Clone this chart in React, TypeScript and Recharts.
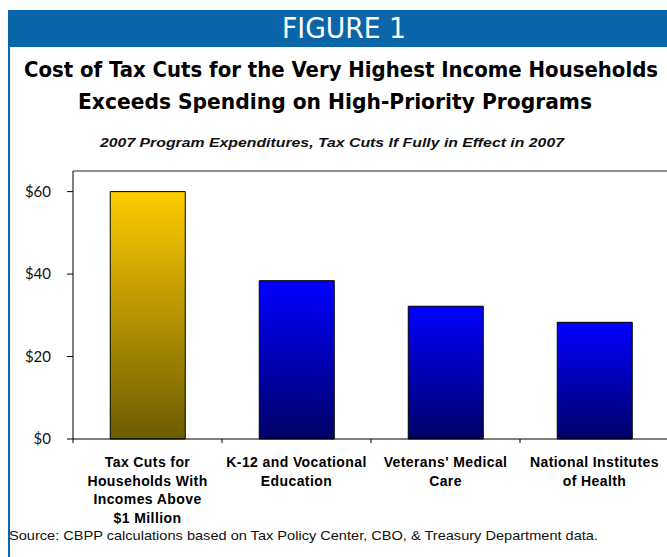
import { BarChart, Bar, XAxis, YAxis, Cell, ReferenceLine } from 'recharts'

const categories = [
  'Tax Cuts for\nHouseholds With\nIncomes Above\n$1 Million',
  'K-12 and Vocational\nEducation',
  "Veterans' Medical\nCare",
  'National Institutes\nof Health',
]
const costs = [60, 38.4, 32.2, 28.3]
const yTicks = [0, 20, 40, 60]
const yMax = 65

const data = categories.map((name, i) => ({ name, value: costs[i] }))

const BLUE_BAND = '#0A66A8'
const CONDENSED = "'Liberation Sans Narrow', 'DejaVu Sans Condensed', 'Roboto Condensed', Arial, sans-serif"
const ARIAL = "'Liberation Sans', Arial, sans-serif"

// category label plus the small tick marks at the band edges
const CatTick = ({ x, y, payload, index }: any) => {
  const lines = String(payload.value).split('\n')
  const half = payload.offset || 0
  return (
    <g>
      <line x1={x - half} x2={x - half} y1={y} y2={y + 4} stroke="#000" />
      {index === categories.length - 1 && (
        <line x1={x + half} x2={x + half} y1={y} y2={y + 4} stroke="#000" />
      )}
      <text
        x={x}
        y={y}
        textAnchor="middle"
        fontFamily={ARIAL}
        fontWeight="bold"
        fontSize={14}
        letterSpacing={0.4}
        fill="#000"
      >
        {lines.map((l, i) => (
          <tspan key={i} x={x} dy={i === 0 ? 28 : 18.6}>{l}</tspan>
        ))}
      </text>
    </g>
  )
}

export default function App() {
  return (
    <div style={{ position: 'absolute', left: 0, top: 0, width: 667, height: 557, overflow: 'hidden', background: '#fff' }}>
      <svg width={667} height={557} style={{ position: 'absolute', left: 0, top: 0 }}>
        <rect x={8} y={10} width={659} height={37} fill={BLUE_BAND} />
        <rect x={8} y={10} width={2} height={547} fill={BLUE_BAND} />
        <text x={282} y={38} fontFamily={CONDENSED} fontSize={29} fill="#fff" textLength={124} lengthAdjust="spacingAndGlyphs">
          FIGURE 1
        </text>
        <text x={24} y={77} fontFamily={CONDENSED} fontWeight="bold" fontSize={21} fill="#000" textLength={634} lengthAdjust="spacingAndGlyphs">
          Cost of Tax Cuts for the Very Highest Income Households
        </text>
        <text x={78} y={109} fontFamily={CONDENSED} fontWeight="bold" fontSize={21} fill="#000" textLength={514} lengthAdjust="spacingAndGlyphs">
          Exceeds Spending on High-Priority Programs
        </text>
        <text x={100} y={147} fontFamily={ARIAL} fontWeight="bold" fontStyle="italic" fontSize={12.5} fill="#111" textLength={464} lengthAdjust="spacingAndGlyphs">
          2007 Program Expenditures, Tax Cuts If Fully in Effect in 2007
        </text>
        <text x={9} y={540} fontFamily={ARIAL} fontSize={13.5} fill="#111" textLength={589} lengthAdjust="spacingAndGlyphs">
          Source:  CBPP calculations based on Tax Policy Center, CBO, &amp; Treasury Department data.
        </text>
      </svg>

      <div style={{ position: 'absolute', left: 0, top: 0 }}>
        <BarChart
          width={679}
          height={557}
          data={data}
          margin={{ top: 171, right: 10, bottom: 88, left: 0 }}
          barCategoryGap="25%"
        >
          <defs>
            <linearGradient id="gold" x1="0" y1="0" x2="0" y2="1">
              <stop offset="0%" stopColor="#FFCC00" />
              <stop offset="100%" stopColor="#6E5B00" />
            </linearGradient>
            <linearGradient id="blue" x1="0" y1="0" x2="0" y2="1">
              <stop offset="0%" stopColor="#0000FF" />
              <stop offset="100%" stopColor="#000068" />
            </linearGradient>
          </defs>
          <XAxis
            dataKey="name"
            height={30}
            interval={0}
            tickSize={0}
            tickMargin={0}
            tickLine={false}
            axisLine={{ stroke: '#000' }}
            tick={<CatTick />}
          />
          <YAxis
            width={73}
            domain={[0, yMax]}
            ticks={yTicks}
            tickSize={6}
            tickMargin={16}
            axisLine={{ stroke: '#000' }}
            tickLine={{ stroke: '#000' }}
            tickFormatter={(v: number) => `$${v}`}
            tick={{ fontFamily: 'Lato, sans-serif', fontSize: 15, fill: '#111' }}
          />
          <ReferenceLine y={yMax} stroke="#222" />
          <Bar dataKey="value" stroke="#000" strokeWidth={1} isAnimationActive={false}>
            {data.map((_, i) => (
              <Cell key={i} fill={i === 0 ? 'url(#gold)' : 'url(#blue)'} />
            ))}
          </Bar>
        </BarChart>
      </div>
    </div>
  )
}
